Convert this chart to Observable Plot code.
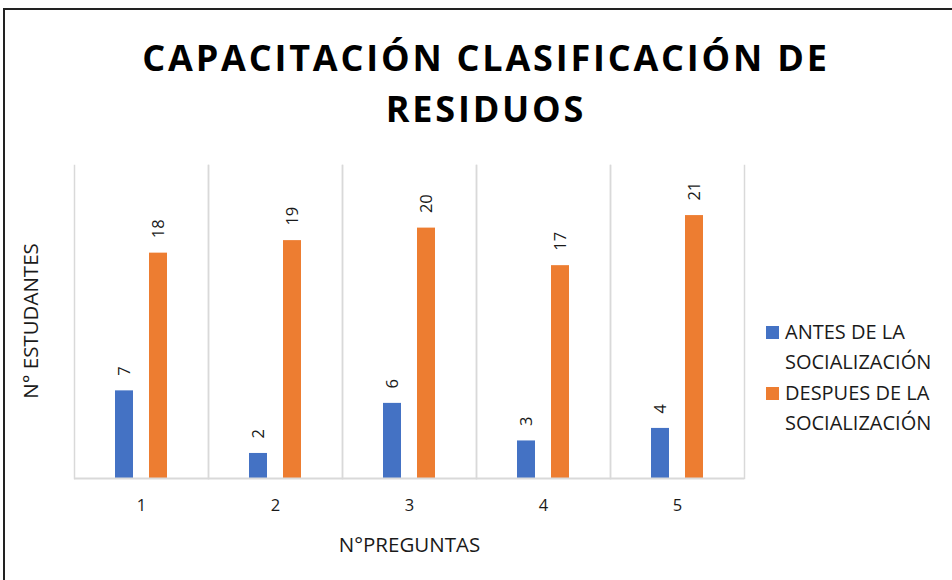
<!DOCTYPE html>
<html><head><meta charset="utf-8">
<script src="https://cdn.jsdelivr.net/npm/d3@7"></script>
<script src="https://cdn.jsdelivr.net/npm/@observablehq/plot@0.6"></script>
<style>
body{margin:0;background:#fff;font-family:"Open Sans",sans-serif;color:#1a1a1a;}
#wrap{position:relative;width:952px;height:580px;overflow:hidden;background:#fff;}
#border{position:absolute;left:3px;top:8px;width:980px;height:600px;border:2px solid #222;box-sizing:border-box;}
#chart{position:absolute;left:0;top:0;}
#title{position:absolute;left:0;width:972px;top:32px;text-align:center;font-weight:700;font-size:36px;letter-spacing:2.8px;line-height:51px;color:#000;}
#ylab{position:absolute;left:30px;top:321px;transform:translate(-50%,-50%) rotate(-90deg);white-space:nowrap;font-size:20.5px;}
.leg{position:absolute;left:766px;font-size:20px;line-height:30px;}
.leg .sw{position:absolute;left:0;top:9px;width:13px;height:13px;}
.leg .tx{margin-left:19px;}
g[aria-label="fx-axis label"] text{font-size:20.5px;}
</style>
</head><body>
<div id="wrap">
  <div id="border"></div>
  <div id="chart"></div>
  <div id="title">CAPACITACIÓN CLASIFICACIÓN DE<br>RESIDUOS</div>
  <div id="ylab">N° ESTUDANTES</div>
  <div id="legend"></div>
</div>
<script>
const preguntas = ["1", "2", "3", "4", "5"];
const series = ["ANTES DE LA SOCIALIZACIÓN", "DESPUES DE LA SOCIALIZACIÓN"];
const antes = [7, 2, 6, 3, 4];
const despues = [18, 19, 20, 17, 21];
const colors = ["#4472C4", "#ED7D31"];

const data = [];
preguntas.forEach((q, i) => {
  data.push({q, s: series[0], v: antes[i]});
  data.push({q, s: series[1], v: despues[i]});
});

const grid = "#d9d9d9";
const chart = Plot.plot({
  width: 952,
  height: 580,
  marginLeft: 72,
  marginRight: 207,
  marginTop: 165,
  marginBottom: 102,
  style: {fontFamily: "Open Sans, sans-serif", fontSize: "16.5px", color: "#1a1a1a", background: "transparent"},
  fx: {domain: preguntas, padding: 0, tickSize: 0, tickPadding: 21, label: "N°PREGUNTAS", labelAnchor: "center", labelOffset: 73, axis: "bottom"},
  x: {domain: series, paddingInner: 0.46, paddingOuter: 1.17, axis: null},
  y: {domain: [0, 25], axis: null},
  color: {domain: series, range: colors},
  marks: [
    Plot.frame({anchor: "left", stroke: grid, strokeWidth: 1.5}),
    Plot.frame({anchor: "right", stroke: grid, strokeWidth: 1.5}),
    Plot.barY(data, {fx: "q", x: "s", y: "v", fill: "s"}),
    Plot.ruleY([0], {stroke: grid, strokeWidth: 2}),
    Plot.text(data, {fx: "q", x: "s", y: "v", text: d => String(d.v), rotate: -90, textAnchor: "start", dy: -15, fontSize: 16.5, fill: "#1a1a1a"})
  ]
});
document.getElementById("chart").appendChild(chart);

const leg = document.getElementById("legend");
const tops = [317, 378];
series.forEach((s, i) => {
  const words = s.split(" ");
  const d = document.createElement("div");
  d.className = "leg";
  d.style.top = tops[i] + "px";
  d.innerHTML = `<div class="sw" style="background:${colors[i]}"></div><div class="tx">${words.slice(0, 3).join(" ")}<br>${words.slice(3).join(" ")}</div>`;
  leg.appendChild(d);
});
</script>
</body></html>
